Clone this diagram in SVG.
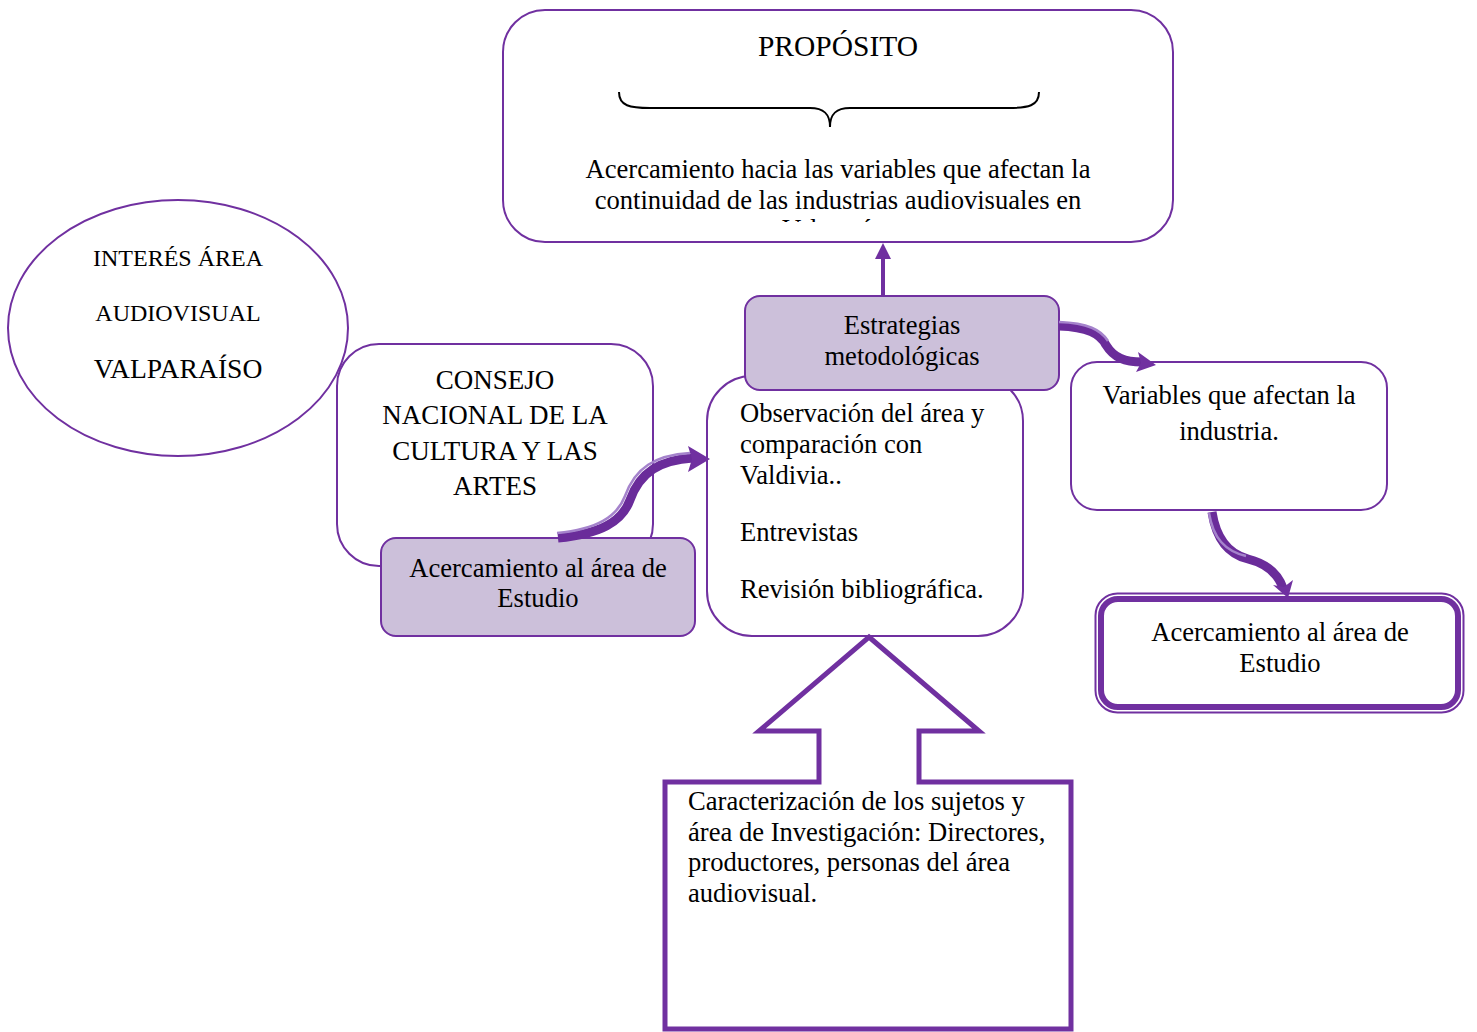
<svg xmlns="http://www.w3.org/2000/svg" width="1477" height="1032" viewBox="0 0 1477 1032">
<style>
.t{font-family:"Liberation Serif","Times New Roman",serif;fill:#000;}
.c{text-anchor:middle;}
.b{font-size:26.6px;}
.box{fill:#fff;stroke:#7030A0;stroke-width:2;}
.lav{fill:#CCC0DA;stroke:#7030A0;stroke-width:2;}
.arr{fill:none;stroke:#6A2C9A;stroke-width:9;stroke-linecap:butt;}
.hl{fill:none;stroke:#A583CC;stroke-width:2.5;}
.head{fill:#7030A0;}
</style>
<defs>
<clipPath id="topclip"><rect x="503" y="10" width="670" height="212"/></clipPath>
</defs>
<rect width="1477" height="1032" fill="#fff"/>

<g id="proposito">
<rect class="box" x="503" y="10" width="670" height="232" rx="42"/>
<text class="t c" x="838" y="56" font-size="29.5">PROPÓSITO</text>
<path d="M619,92 C619,106 630,108 650,108 L810,108 C824,108 830,114 830,127 C830,114 836,108 850,108 L1008,108 C1028,108 1039,106 1039,92" fill="none" stroke="#000" stroke-width="2"/>
<g clip-path="url(#topclip)">
<text class="t c b" x="838" y="178">Acercamiento hacia las variables que afectan la</text>
<text class="t c b" x="838" y="209">continuidad de las industrias audiovisuales en</text>
<text class="t c b" x="838" y="238">Valparaíso</text>
</g>
</g>

<g id="interes">
<ellipse class="box" cx="178" cy="328" rx="170" ry="128"/>
<text class="t c" x="178" y="266" font-size="24">INTERÉS ÁREA</text>
<text class="t c" x="178" y="321" font-size="24">AUDIOVISUAL</text>
<text class="t c" x="178" y="378" font-size="27.6">VALPARAÍSO</text>
</g>

<g id="consejo">
<rect class="box" x="337" y="344" width="316" height="222" rx="42"/>
<text class="t c" x="495" y="389" font-size="27">CONSEJO</text>
<text class="t c" x="495" y="424" font-size="27">NACIONAL DE LA</text>
<text class="t c" x="495" y="460" font-size="27">CULTURA Y LAS</text>
<text class="t c" x="495" y="495" font-size="27">ARTES</text>
</g>

<g id="acercamiento-izq">
<rect class="lav" x="381" y="538" width="314" height="98" rx="15"/>
<text class="t c b" x="538" y="577">Acercamiento al área de</text>
<text class="t c b" x="538" y="607">Estudio</text>
</g>

<g id="observacion">
<rect class="box" x="707" y="376" width="316" height="260" rx="45"/>
<text class="t b" x="740" y="422">Observación del área y</text>
<text class="t b" x="740" y="453">comparación con</text>
<text class="t b" x="740" y="484">Valdivia..</text>
<text class="t b" x="740" y="541">Entrevistas</text>
<text class="t b" x="740" y="598">Revisión bibliográfica.</text>
</g>

<g id="estrategias">
<rect class="lav" x="745" y="296" width="314" height="94" rx="15"/>
<text class="t c b" x="902" y="334">Estrategias</text>
<text class="t c b" x="902" y="365">metodológicas</text>
</g>

<g id="variables">
<rect class="box" x="1071" y="362" width="316" height="148" rx="26"/>
<text class="t c b" x="1229" y="404">Variables que afectan la</text>
<text class="t c b" x="1229" y="440">industria.</text>
</g>

<g id="acercamiento-der">
<rect x="1095.5" y="593.5" width="368" height="119" rx="22" fill="#fff" stroke="#7030A0" stroke-width="2"/>
<rect x="1101" y="599" width="357" height="108" rx="17" fill="#fff" stroke="#7030A0" stroke-width="6"/>
<text class="t c b" x="1280" y="641">Acercamiento al área de</text>
<text class="t c b" x="1280" y="672">Estudio</text>
</g>

<g id="caracterizacion">
<path d="M869,637 L979,731 L919,731 L919,782 L1071,782 L1071,1029 L665,1029 L665,782 L819,782 L819,731 L759,731 Z" fill="#fff" stroke="#7030A0" stroke-width="5"/>
<text class="t b" x="688" y="810">Caracterización de los sujetos y</text>
<text class="t b" x="688" y="841">área de Investigación: Directores,</text>
<text class="t b" x="688" y="871">productores, personas del área</text>
<text class="t b" x="688" y="902">audiovisual.</text>
</g>

<g id="connectors">
<line x1="883" y1="296" x2="883" y2="256" stroke="#7030A0" stroke-width="4"/>
<polygon class="head" points="883,243 875,259 891,259"/>

<path class="arr" d="M558,538 C600,534 622,522 630,500 C640,472 660,460 693,458"/>
<path class="hl" d="M557,533 C597,529 617,517 625,496 C635,468 655,455 690,453"/>
<polygon class="head" points="688,446 710,459 688,472 692,459"/>

<path class="arr" d="M1059,326 C1088,327 1100,334 1106,345 C1114,358 1125,362 1142,362"/>
<path class="hl" d="M1059,322 C1088,323 1101,330 1108,341"/>
<polygon class="head" points="1138,352 1156,365 1136,372 1141,363"/>

<path class="arr" d="M1212,512 C1216,538 1228,554 1248,559 C1268,564 1278,574 1283,588"/>
<path class="hl" d="M1209,513 C1213,538 1225,551 1246,556"/>
<polygon class="head" points="1273,585 1288,598 1293,580 1284,587"/>
</g>
</svg>
